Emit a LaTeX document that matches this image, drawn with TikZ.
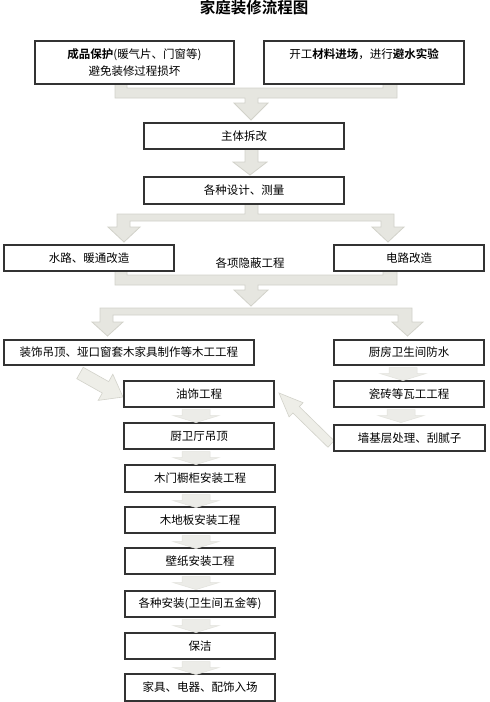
\documentclass[tikz,border=0pt]{standalone}
\usepackage{fontspec}
\setmainfont{Noto Sans CJK SC}[BoldFont={Noto Sans CJK SC Bold}]
\usetikzlibrary{calc}
\definecolor{arrfill}{HTML}{E6E6E0}
\definecolor{arrline}{HTML}{D2D2CA}
\definecolor{sarrfill}{HTML}{ECECE8}
\definecolor{sarrline}{HTML}{E2E2DC}
\definecolor{diagfill}{HTML}{EEEEE8}
\definecolor{boxline}{HTML}{333333}
\tikzset{
  box/.style={draw=boxline, line width=1.1pt, fill=white, inner sep=0pt,
    align=center, font=\fontsize{11.5}{17}\selectfont},
  bigarr/.style={fill=arrfill, draw=arrline, line width=0.8pt, line join=miter},
  diagarr/.style={fill=diagfill, draw=arrline, line width=0.6pt, line join=miter},
  smallarr/.style={fill=sarrfill, draw=sarrline, line width=0.5pt},
  lbl/.style={font=\fontsize{11.5}{14}\selectfont, inner sep=0pt},
}
\newcommand\dnarr[3]{%
  \path[smallarr] ($(#1.south)+(#3,2)$) ++(-14,0) -- ++(0,6) -- ++(-9,0)
    -- ++(23,7) -- ++(23,-7) -- ++(-9,0) -- ++(0,-6) -- cycle;}
\begin{document}
\begin{tikzpicture}[x=1pt,y=-1pt]
\useasboundingbox (0,0) rectangle (490,702);
\fill[white] (0,0) rectangle (490,702);

\node[font=\bfseries\fontsize{15.5}{17}\selectfont, inner sep=0pt] (title) at (254,8) {家庭装修流程图};

% big block arrows
\path[bigarr] (115,84) -- (115,98) -- (245,98) -- (245,103) -- (234,103) -- (251,120)
  -- (268,103) -- (258,103) -- (258,98) -- (397,98) -- (397,84) -- (383,84)
  -- (383,88) -- (127,88) -- (127,84) -- cycle;
\path[bigarr] (245,148) -- (245,162) -- (233,162) -- (250,175) -- (267,162)
  -- (258,162) -- (258,148) -- cycle;
\path[bigarr] (245,204) -- (245,214) -- (117,214) -- (117,227) -- (108,227) -- (124,242)
  -- (140,227) -- (130,227) -- (130,221) -- (381,221) -- (381,227) -- (372,227)
  -- (388,242) -- (404,227) -- (394,227) -- (394,214) -- (258,214) -- (258,204) -- cycle;
\path[bigarr] (115,271) -- (115,285) -- (245,285) -- (245,290) -- (234,290) -- (251,306)
  -- (268,290) -- (258,290) -- (258,285) -- (397,285) -- (397,271) -- (383,271)
  -- (383,275) -- (127,275) -- (127,271) -- cycle;
\path[bigarr] (100,308) -- (100,322) -- (92,322) -- (107.5,336) -- (123,322) -- (113,322)
  -- (113,315) -- (398,315) -- (398,322) -- (392,322) -- (407.5,336) -- (423,322)
  -- (412,322) -- (412,308) -- cycle;
\path[diagarr] (76.8,378.7) -- (102.3,393.0) -- (98.2,400.4) -- (123,397)
  -- (112.8,374.2) -- (108.7,381.6) -- (83.2,367.3) -- cycle;
\path[diagarr] (334.2,440.8) -- (299.3,406.6) -- (303.1,402.7) -- (279,393)
  -- (289.1,416.9) -- (292.9,413.0) -- (327.9,447.2) -- cycle;

% boxes
\node[box, minimum width=199, minimum height=43] (b1) at (134.5,62.5)
  {\textbf{成品保护}(暖气片、门窗等)\\避免装修过程损坏};
\node[box, minimum width=200, minimum height=43] (b2) at (364,62.5)
  {开工\textbf{材料进场}，进行\textbf{避水实验}\\\phantom{开}};
\node[box, minimum width=200, minimum height=26] (b3) at (244,136) {主体拆改};
\node[box, minimum width=200, minimum height=27] (b4) at (244,190.5) {各种设计、测量};
\node[box, minimum width=170, minimum height=26] (b5) at (89,258) {水路、暖通改造};
\node[box, minimum width=150, minimum height=26] (b6) at (409,258) {电路改造};
\node[lbl] (hid) at (250,263) {各项隐蔽工程};
\node[box, minimum width=250, minimum height=25] (b7) at (129,352.5) {装饰吊顶、垭口窗套木家具制作等木工工程};
\node[box, minimum width=150, minimum height=25] (b8) at (409,352.5) {厨房卫生间防水};
\node[box, minimum width=150, minimum height=26] (b9) at (199,394) {油饰工程};
\node[box, minimum width=150, minimum height=26] (b10) at (409,394) {瓷砖等瓦工工程};
\node[box, minimum width=150, minimum height=26] (b11) at (199,436) {厨卫厅吊顶};
\node[box, minimum width=151, minimum height=26] (b12) at (409.5,438) {墙基层处理、刮腻子};
\node[box, minimum width=150, minimum height=27] (b13) at (200,478.5) {木门橱柜安装工程};
\node[box, minimum width=150, minimum height=26] (b14) at (200,520) {木地板安装工程};
\node[box, minimum width=150, minimum height=26] (b15) at (200,561) {壁纸安装工程};
\node[box, minimum width=150, minimum height=26] (b16) at (200,604) {各种安装(卫生间五金等)};
\node[box, minimum width=150, minimum height=26] (b17) at (200,646) {保洁};
\node[box, minimum width=150, minimum height=27] (b18) at (200,687.5) {家具、电器、配饰入场};

% small arrows
\dnarr{b9}{b11}{-3}
\dnarr{b11}{b13}{-3}
\dnarr{b13}{b14}{-4}
\dnarr{b14}{b15}{-4}
\dnarr{b15}{b16}{-4}
\dnarr{b16}{b17}{-4}
\dnarr{b17}{b18}{-4}
\dnarr{b8}{b10}{-6}
\dnarr{b10}{b12}{-8}
\end{tikzpicture}
\end{document}
